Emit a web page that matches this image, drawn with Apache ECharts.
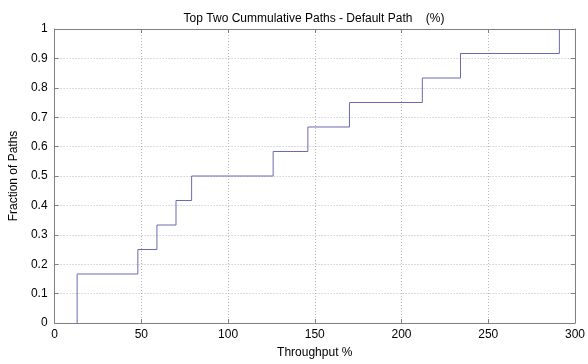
<!DOCTYPE html>
<html>
<head>
<meta charset="utf-8">
<script src="https://cdn.jsdelivr.net/npm/echarts@6/dist/echarts.min.js"></script>
<style>
html, body { margin: 0; padding: 0; background: #fff; }
#main { width: 588px; height: 364px; }
</style>
</head>
<body>
<div id="main"></div>
<script>
// CDF steps
var throughput = [13, 13, 48, 59, 70, 79, 126, 146, 170, 212, 234, 291];
var fraction = [0, 0.1667, 0.25, 0.3333, 0.4167, 0.5, 0.5833, 0.6667, 0.75, 0.8333, 0.9167, 1];
var xTicks = [0, 50, 100, 150, 200, 250, 300];
var yTicks = [0, 0.1, 0.2, 0.3, 0.4, 0.5, 0.6, 0.7, 0.8, 0.9, 1];

var pts = [];
for (var i = 0; i < throughput.length; i++) {
	pts.push([throughput[i], fraction[i]]);
}

var font = 'Liberation Sans, Arial, sans-serif';
var boxColor = '#808080';

function axisBase(show) {
	return {
		axisLine: { show: true, onZero: false, lineStyle: { color: boxColor, width: 1 } },
		axisTick: { show: true, inside: true, length: 4, lineStyle: { color: boxColor } },
		axisLabel: { show: show, color: '#000', fontFamily: font, fontSize: 12 }
	};
}

var myChart = echarts.init(document.getElementById('main'), null, { renderer: 'canvas' });
var option = {
	animation: false,
	title: {
		text: 'Top Two Cummulative Paths - Default Path    (%)',
		left: 309, top: 8, textAlign: 'center',
		textStyle: { fontFamily: font, fontSize: 12, fontWeight: 'normal', color: '#000' }
	},
	grid: { left: 44, right: 10, top: 29, bottom: 33, containLabel: false },
	xAxis: [
		Object.assign(axisBase(true), {
			type: 'value', min: xTicks[0], max: xTicks[xTicks.length - 1], interval: 50, position: 'bottom',
			name: 'Throughput %', nameLocation: 'middle', nameGap: 24,
			nameTextStyle: { fontFamily: font, fontSize: 12, color: '#000' },
			axisLabel: { color: '#000', fontFamily: font, fontSize: 12, margin: 6 },
			splitLine: { show: true, lineStyle: { color: '#b8b8b8', type: [1, 2] } }
		}),
		Object.assign(axisBase(false), {
			type: 'value', min: xTicks[0], max: xTicks[xTicks.length - 1], interval: 50, position: 'top',
			splitLine: { show: false }
		})
	],
	yAxis: [
		Object.assign(axisBase(true), {
			type: 'value', min: yTicks[0], max: yTicks[yTicks.length - 1], interval: 0.1, position: 'left',
			name: 'Fraction of Paths', nameLocation: 'middle', nameGap: 29,
			nameTextStyle: { fontFamily: font, fontSize: 12, color: '#000' },
			axisLabel: { color: '#000', fontFamily: font, fontSize: 12, margin: 7,
				formatter: function (v) { return String(Math.round(v * 10) / 10); } },
			splitLine: { show: true, lineStyle: { color: '#b8b8b8', type: [1, 2] } }
		}),
		Object.assign(axisBase(false), {
			type: 'value', min: yTicks[0], max: yTicks[yTicks.length - 1], interval: 0.1, position: 'right',
			splitLine: { show: false }
		})
	],
	series: [{
		type: 'line',
		step: 'end',
		data: pts,
		showSymbol: false,
		lineStyle: { color: '#6a6ab4', width: 1 },
		clip: true
	}]
};
myChart.setOption(option);
</script>
</body>
</html>
